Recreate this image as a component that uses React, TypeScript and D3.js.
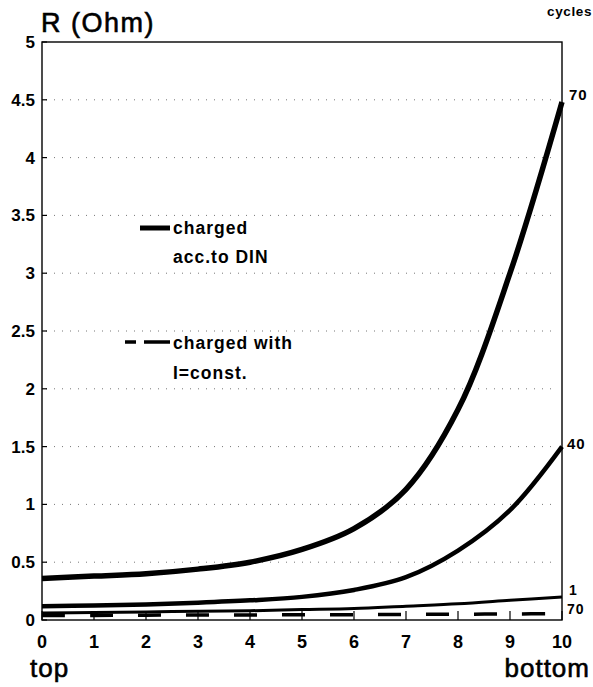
import React from "react";
import * as d3 from "d3";

const positions = [0, 1, 2, 3, 4, 5, 6, 7, 8, 9, 10];
const yTicks = [0, 0.5, 1, 1.5, 2, 2.5, 3, 3.5, 4, 4.5, 5];
const yTickLabels = ["0", "0.5", "1", "1.5", "2", "2.5", "3", "3.5", "4", "4.5", "5"];
const din70 = [0.36, 0.38, 0.4, 0.44, 0.5, 0.61, 0.79, 1.13, 1.82, 3.0, 4.48];
const din40 = [0.12, 0.125, 0.135, 0.15, 0.17, 0.2, 0.26, 0.37, 0.6, 0.95, 1.5];
const din1 = [0.06, 0.065, 0.07, 0.075, 0.08, 0.09, 0.1, 0.12, 0.14, 0.17, 0.2];
const iconst70 = [0.04, 0.04, 0.042, 0.043, 0.044, 0.045, 0.046, 0.048, 0.05, 0.052, 0.055];

const W = 593, H = 687;
const L = 42, R = 562, T = 42, B = 620;
const font = "'Liberation Sans', Arial, sans-serif";

export default function App() {
  const x = d3.scaleLinear().domain([0, 10]).range([L, R]);
  const y = d3.scaleLinear().domain([0, 5]).range([B, T]);
  const line = d3
    .line<number>()
    .x((_, i) => x(positions[i]))
    .y((d) => y(d))
    .curve(d3.curveCatmullRom.alpha(0.5));

  return (
    <svg width={W} height={H} style={{ position: "absolute", left: 0, top: 0, background: "#fff" }}>
      <rect x={0} y={0} width={W} height={H} fill="#fff" />
      {/* grid */}
      {yTicks.filter((t) => t > 0 && t < 5).map((t) => (
        <line key={"g" + t} x1={L + 4} x2={R - 4} y1={y(t)} y2={y(t)} stroke="#777" strokeWidth={1} strokeDasharray="1,7" />
      ))}
      {/* frame */}
      <rect x={L} y={T} width={R - L} height={B - T} fill="none" stroke="#000" strokeWidth={1.4} />
      {/* y ticks */}
      {yTicks.map((t, i) => (
        <g key={"y" + t}>
          <line x1={L} x2={L + 5} y1={y(t)} y2={y(t)} stroke="#000" strokeWidth={1.2} />
          <text x={35} y={y(t) + 6} textAnchor="end" fontFamily={font} fontWeight="bold" fontSize={17}>
            {yTickLabels[i]}
          </text>
        </g>
      ))}
      {/* x ticks */}
      {positions.map((p) => (
        <g key={"x" + p}>
          <line x1={x(p)} x2={x(p)} y1={B} y2={B - 9} stroke="#000" strokeWidth={1.2} />
          <text x={x(p)} y={648} textAnchor="middle" fontFamily={font} fontWeight="bold" fontSize={18}>
            {p}
          </text>
        </g>
      ))}
      {/* curves */}
      <path d={line(iconst70) || ""} fill="none" stroke="#000" strokeWidth={3.5} strokeDasharray="23,25" />
      <path d={line(din1) || ""} fill="none" stroke="#000" strokeWidth={3} />
      <path d={line(din40) || ""} fill="none" stroke="#000" strokeWidth={4.5} />
      <path d={line(din70) || ""} fill="none" stroke="#000" strokeWidth={5.5} />
      {/* curve labels */}
      <text x={569} y={y(din70[10]) - 2} fontFamily={font} fontWeight="bold" fontSize={15} letterSpacing={1}>70</text>
      <text x={567} y={y(din40[10]) + 2} fontFamily={font} fontWeight="bold" fontSize={15} letterSpacing={1}>40</text>
      <text x={569} y={595} fontFamily={font} fontWeight="bold" fontSize={14}>1</text>
      <text x={567} y={614} fontFamily={font} fontWeight="bold" fontSize={14} letterSpacing={1}>70</text>
      {/* legend */}
      <line x1={140} x2={170} y1={228} y2={228} stroke="#000" strokeWidth={5} />
      <text x={173} y={234} fontFamily={font} fontWeight="bold" fontSize={17.5} letterSpacing={1}>charged</text>
      <text x={173} y={263} fontFamily={font} fontWeight="bold" fontSize={17.5} letterSpacing={1}>acc.to DIN</text>
      <line x1={125} x2={170} y1={342} y2={342} stroke="#000" strokeWidth={3.5} strokeDasharray="11,8,30" />
      <text x={173} y={349} fontFamily={font} fontWeight="bold" fontSize={17.5} letterSpacing={1}>charged with</text>
      <text x={173} y={379} fontFamily={font} fontWeight="bold" fontSize={17.5} letterSpacing={1}>I=const.</text>
      {/* titles */}
      <text x={41} y={32} fontFamily={font} fontSize={27} letterSpacing={1.5} stroke="#000" strokeWidth={0.6}>R (Ohm)</text>
      <text x={592} y={16} textAnchor="end" fontFamily={font} fontWeight="bold" fontSize={13.5} letterSpacing={0.6}>cycles</text>
      <text x={30} y={677} fontFamily={font} fontSize={26} letterSpacing={1} stroke="#000" strokeWidth={0.6}>top</text>
      <text x={590} y={677} textAnchor="end" fontFamily={font} fontSize={26} letterSpacing={1} stroke="#000" strokeWidth={0.6}>bottom</text>
    </svg>
  );
}
